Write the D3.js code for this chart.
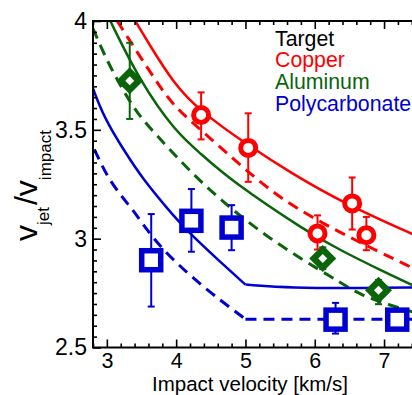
<!DOCTYPE html>
<html>
<head>
<meta charset="utf-8">
<script src="https://cdn.jsdelivr.net/npm/d3@7"></script>
<style>
  body { margin: 0; background: #fff; }
  svg { display: block; font-family: "Liberation Sans", Arial, sans-serif; }
</style>
</head>
<body>
<div id="chart"></div>
<script>
// model curves, [impact velocity, vjet/vimpact]
const copperSolid = [[3.41, 4.0], [3.60, 3.899], [3.96, 3.715], [4.33, 3.59], [5.04, 3.428], [5.64, 3.305], [6.40, 3.165], [7.5, 3.008]];
const copperDashed = [[3.15, 4.0], [3.45, 3.85], [3.72, 3.72], [3.96, 3.61], [4.39, 3.49], [4.83, 3.365], [5.50, 3.18], [6.37, 3.025], [7.5, 2.852]];
const aluminumSolid = [[3.05, 4.0], [3.48, 3.721], [3.99, 3.491], [4.35, 3.392], [4.78, 3.269], [5.89, 3.031], [6.37, 2.947], [6.95, 2.855], [7.5, 2.773]];
const aluminumDashed = [[2.8, 3.965], [3.026, 3.798], [3.41, 3.583], [3.675, 3.491], [4.35, 3.254], [5.31, 3.001], [6.32, 2.809], [6.66, 2.740], [7.09, 2.694], [7.5, 2.655]];
const polySolid = [[2.8, 3.69], [2.954, 3.560], [3.242, 3.407], [3.531, 3.269], [3.869, 3.14], [4.157, 3.035], [4.638, 2.893], [5.0, 2.789]];
const polySolidFlat = [[5.0, 2.789], [5.69, 2.774], [6.51, 2.772], [7.5, 2.776]];
const polyDashed = [[2.82, 3.41], [3.05, 3.254], [3.387, 3.131], [3.675, 2.993], [4.157, 2.840], [4.638, 2.717], [5.0, 2.63]];
const polyDashedFlat = [[5.0, 2.63], [7.5, 2.63]];

// measurements
const copperX = [4.36, 5.04, 6.04, 6.54, 6.745];
const copperY = [3.568, 3.417, 3.024, 3.162, 3.016];
const copperLo = [3.456, 3.261, 2.95, 3.042, 2.947];
const copperHi = [3.672, 3.576, 3.107, 3.281, 3.10];

const aluminumX = [3.33, 6.115, 6.92];
const aluminumY = [3.725, 2.909, 2.763];
const aluminumLo = [3.55, 2.86, 2.699];
const aluminumHi = [3.90, 2.96, 2.81];

const polyX = [3.64, 4.22, 4.80, 6.30, 7.19];
const polyY = [2.901, 3.082, 3.051, 2.628, 2.628];
const polyLo = [2.688, 2.94, 2.947, 2.564, 2.60];
const polyHi = [3.113, 3.228, 3.154, 2.705, 2.65];

const xMajor = [3, 4, 5, 6, 7];
const yMajor = [2.5, 3, 3.5, 4];
const legendLabels = ['Target', 'Copper', 'Aluminum', 'Polycarbonate'];

const width = 412;
const height = 395;
const red = '#ff0000';
const green = '#0a640a';
const blue = '#0000d2';

const x = d3.scaleLinear().domain([2.8, 7.5]).range([93, 93 + 4.7 * 69.3]);
const y = d3.scaleLinear().domain([2.5, 4]).range([347.5, 21]);

const svg = d3.select('#chart')
  .append('svg')
  .attr('width', width)
  .attr('height', height);

svg.append('clipPath')
  .attr('id', 'plotclip')
  .append('rect')
  .attr('x', x(2.8))
  .attr('y', y(4))
  .attr('width', x(7.5) - x(2.8))
  .attr('height', y(2.5) - y(4));

const plot = svg.append('g').attr('clip-path', 'url(#plotclip)');

// basis curve smooths the hand-read points a little
const line = d3.line()
  .x(d => x(d[0]))
  .y(d => y(d[1]))
  .curve(d3.curveBasis);

function drawCurve(data, color, dashed) {
  plot.append('path')
    .attr('d', line(data))
    .attr('fill', 'none')
    .attr('stroke', color)
    .attr('stroke-width', dashed ? 3 : 2.5)
    .attr('stroke-dasharray', dashed ? '11,7' : null);
}

drawCurve(copperSolid, red, false);
drawCurve(copperDashed, red, true);
drawCurve(aluminumSolid, green, false);
drawCurve(aluminumDashed, green, true);
drawCurve(polySolid, blue, false);
drawCurve(polySolidFlat, blue, false);
drawCurve(polyDashed, blue, true);
drawCurve(polyDashedFlat, blue, true);

function errorBars(xs, lo, hi, color) {
  const g = svg.append('g')
    .attr('stroke', color)
    .attr('stroke-width', 2);
  xs.forEach((v, i) => {
    g.append('line')
      .attr('x1', x(v)).attr('x2', x(v))
      .attr('y1', y(lo[i])).attr('y2', y(hi[i]));
    [lo[i], hi[i]].forEach(e => {
      g.append('line')
        .attr('x1', x(v) - 3.5).attr('x2', x(v) + 3.5)
        .attr('y1', y(e)).attr('y2', y(e));
    });
  });
}

// copper: open circles
errorBars(copperX, copperLo, copperHi, red);
svg.append('g')
  .selectAll('circle')
  .data(copperX)
  .enter()
  .append('circle')
  .attr('cx', d => x(d))
  .attr('cy', (d, i) => y(copperY[i]))
  .attr('r', 7.5)
  .attr('fill', '#fff')
  .attr('stroke', red)
  .attr('stroke-width', 5);

// aluminum: diamonds with a small white centre
errorBars(aluminumX, aluminumLo, aluminumHi, green);
const diamond = r => `M0,${-r}L${r},0L0,${r}L${-r},0Z`;
const dia = svg.append('g')
  .selectAll('g')
  .data(aluminumX)
  .enter()
  .append('g')
  .attr('transform', (d, i) => `translate(${x(d)},${y(aluminumY[i])})`);
dia.append('path').attr('d', diamond(13.5)).attr('fill', green);
dia.append('path').attr('d', diamond(4.5)).attr('fill', '#fff');

// polycarbonate: open squares
errorBars(polyX, polyLo, polyHi, blue);
svg.append('g')
  .selectAll('rect')
  .data(polyX)
  .enter()
  .append('rect')
  .attr('x', d => x(d) - 9.5)
  .attr('y', (d, i) => y(polyY[i]) - 9.5)
  .attr('width', 19)
  .attr('height', 19)
  .attr('fill', '#fff')
  .attr('stroke', blue)
  .attr('stroke-width', 5.5);

// axes, ticks pointing inwards
const xMinor = d3.range(2.8, 7.5, 0.2).filter(v => Math.abs(v - Math.round(v)) > 0.01);
const yMinor = d3.range(2.5, 4.001, 0.05).filter(v => Math.abs(v * 2 - Math.round(v * 2)) > 0.01);

function styleAxis(g, size) {
  g.select('.domain').remove();
  g.selectAll('line').attr('stroke', '#000').attr('stroke-width', 1.6);
  g.selectAll('text').attr('font-size', size || 23).attr('fill', '#000')
    .attr('font-family', '"Liberation Sans", Arial, sans-serif');
}

svg.append('g')
  .attr('transform', `translate(0,${y(2.5)})`)
  .call(d3.axisBottom(x).tickValues(xMajor).tickSize(-8).tickPadding(5).tickFormat(d3.format('')))
  .call(styleAxis, 21.5);
svg.append('g')
  .attr('transform', `translate(0,${y(2.5)})`)
  .call(d3.axisBottom(x).tickValues(xMinor).tickSize(-4).tickFormat(''))
  .call(styleAxis);
svg.append('g')
  .attr('transform', `translate(0,${y(4)})`)
  .call(d3.axisTop(x).tickValues(xMajor).tickSize(-8).tickFormat(''))
  .call(styleAxis);
svg.append('g')
  .attr('transform', `translate(0,${y(4)})`)
  .call(d3.axisTop(x).tickValues(xMinor).tickSize(-4).tickFormat(''))
  .call(styleAxis);
svg.append('g')
  .attr('transform', `translate(${x(2.8)},0)`)
  .call(d3.axisLeft(y).tickValues(yMajor).tickSize(-8).tickPadding(6).tickFormat(d3.format('')))
  .call(styleAxis, 23);
svg.append('g')
  .attr('transform', `translate(${x(2.8)},0)`)
  .call(d3.axisLeft(y).tickValues(yMinor).tickSize(-4).tickFormat(''))
  .call(styleAxis);

// frame
svg.append('path')
  .attr('d', `M${x(7.5)},${y(4)}H${x(2.8)}V${y(2.5)}H${x(7.5)}`)
  .attr('fill', 'none')
  .attr('stroke', '#000')
  .attr('stroke-width', 2);

// axis titles
svg.append('text')
  .attr('x', 250)
  .attr('y', 391)
  .attr('text-anchor', 'middle')
  .attr('font-size', 20.5)
  .text('Impact velocity [km/s]');

const ylab = svg.append('text')
  .attr('transform', 'translate(37,241) rotate(-90)')
  .attr('font-size', 32);
ylab.append('tspan').text('v');
ylab.append('tspan').attr('font-size', 17).attr('dy', 12).text('jet');
ylab.append('tspan').attr('dy', -12).attr('dx', 2).text('/');
ylab.append('tspan').text('v');
ylab.append('tspan').attr('font-size', 17).attr('dy', 14).text('impact');

// legend
const legendColors = ['#000', red, green, blue];
svg.append('g')
  .selectAll('text')
  .data(legendLabels)
  .enter()
  .append('text')
  .attr('x', 275)
  .attr('y', (d, i) => 45.5 + i * 21.7)
  .attr('font-size', 21.3)
  .attr('fill', (d, i) => legendColors[i])
  .text(d => d);
</script>
</body>
</html>
